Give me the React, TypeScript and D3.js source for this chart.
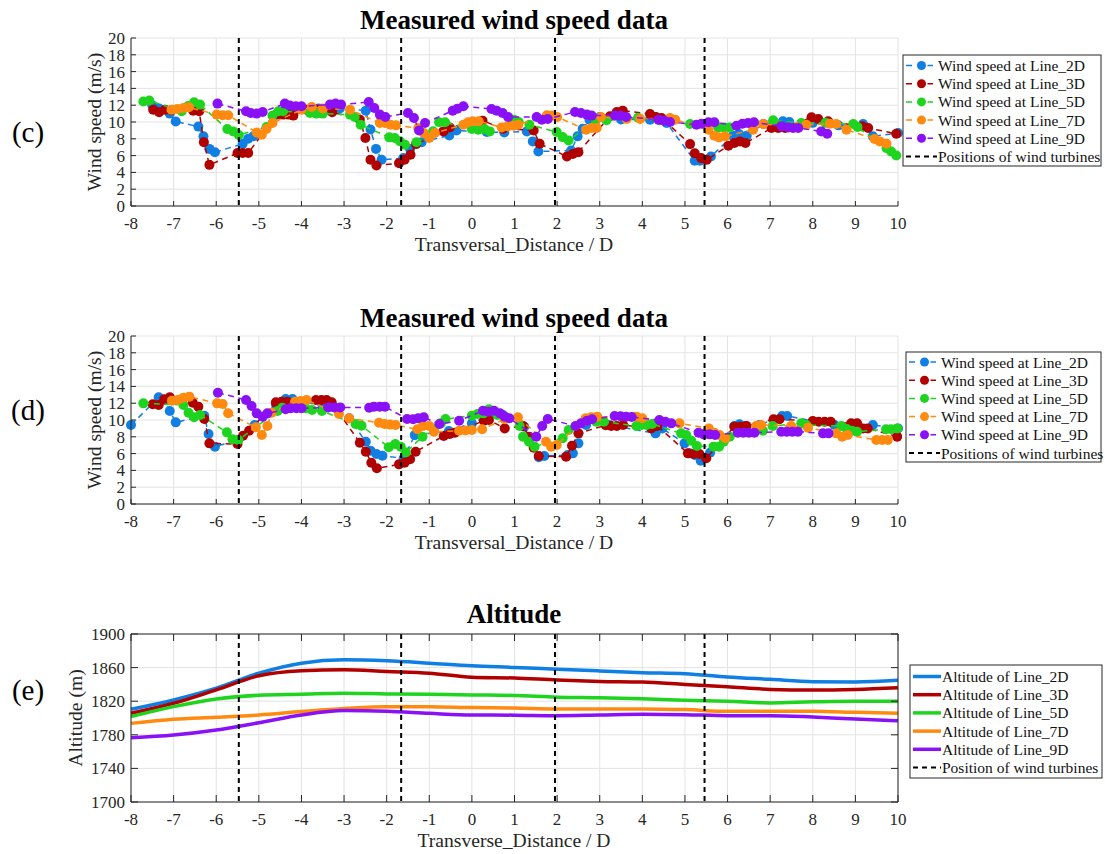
import React from "react";
import * as d3 from "d3";

type Pt = [number, number];

// Transversal positions (in rotor diameters) of the wind turbines
const turbinePositions = [-5.47, -1.66, 1.95, 5.46];

const xTicks = d3.range(-8, 11, 1);
const speedTicks = d3.range(0, 21, 2);
const altitudeTicks = d3.range(1700, 1901, 40);

const lineNames = ["Line_2D", "Line_3D", "Line_5D", "Line_7D", "Line_9D"];
const lineColors = ["#0f7fe3", "#b00000", "#1fd41f", "#ff8a10", "#8a10f5"];

// ---- measured wind speed, campaign (c) ----
const c2D: Pt[] = [[-7.5,12.0],[-7.34,11.6],[-7.09,11.0],[-6.95,10.05],[-6.42,9.45],[-6.3,8.3],[-6.16,6.8],[-6.03,6.4],[-5.38,7.4],[-5.25,8.0],[-5.13,8.3],[-4.6,10.9],[-4.35,11.5],[-4.2,11.5],[-3.6,11.6],[-3.3,11.7],[-3.1,11.6],[-2.49,11.35],[-2.38,9.1],[-2.25,6.8],[-2.12,5.5],[-1.61,5.7],[-1.45,6.8],[-1.18,7.6],[-0.53,8.4],[-0.36,9.0],[0.35,8.8],[0.76,8.76],[1.29,8.88],[1.43,7.69],[1.56,6.49],[2.33,6.61],[2.48,8.29],[2.6,9.2],[2.76,10.28],[3.0,10.6],[3.5,10.3],[4.18,10.28],[4.57,9.88],[5.23,5.38],[5.35,5.38],[5.61,5.9],[6.13,8.37],[6.27,8.57],[6.45,8.37],[6.84,9.76],[7.3,10.08],[7.45,10.0],[8.0,9.9],[8.6,9.6],[9.18,9.76],[9.41,8.29],[10.0,8.69]];
const c3D: Pt[] = [[-7.48,11.47],[-7.34,11.16],[-7.2,11.47],[-7.05,11.4],[-6.54,11.35],[-6.4,11.27],[-6.29,7.6],[-6.16,4.9],[-5.5,6.3],[-5.38,6.3],[-5.25,6.3],[-4.58,10.88],[-4.43,10.88],[-4.31,10.88],[-4.19,10.76],[-3.88,11.47],[-3.65,11.5],[-3.41,11.47],[-3.28,11.16],[-2.63,10.28],[-2.5,8.09],[-2.38,5.5],[-2.24,4.82],[-1.71,5.1],[-1.58,5.5],[-1.44,6.1],[-1.31,7.37],[-0.67,8.88],[-0.52,9.36],[0.25,10.16],[0.73,9.2],[1.45,9.0],[1.59,7.41],[2.23,5.9],[2.37,6.18],[2.5,6.41],[3.24,10.68],[3.4,11.2],[3.54,11.35],[4.18,10.96],[4.32,10.6],[4.45,10.48],[5.12,7.37],[5.23,6.29],[5.38,5.7],[5.51,5.5],[6.02,7.17],[6.16,7.49],[6.29,7.69],[6.42,7.49],[7.03,9.28],[7.19,9.28],[7.35,9.28],[7.97,10.56],[8.13,10.36],[8.36,10.08],[9.16,9.48],[9.3,9.28],[9.96,8.6]];
const c5D: Pt[] = [[-7.71,12.43],[-7.57,12.55],[-6.81,11.27],[-6.66,11.9],[-6.52,12.35],[-6.38,12.07],[-5.74,9.16],[-5.6,8.88],[-5.47,8.45],[-4.82,9.4],[-4.68,10.76],[-4.54,11.27],[-4.43,11.27],[-3.8,11.07],[-3.65,11.0],[-3.5,11.0],[-2.86,10.88],[-2.75,10.6],[-2.61,9.68],[-1.94,8.17],[-1.81,8.09],[-1.69,7.7],[-1.57,7.3],[-1.3,7.6],[-0.91,8.9],[-0.77,9.96],[-0.63,9.96],[0.0,9.16],[0.15,9.08],[0.3,9.16],[0.42,8.88],[0.98,10.28],[1.1,10.0],[1.35,9.68],[1.99,8.8],[2.13,8.2],[2.27,7.8],[2.91,10.2],[3.16,10.2],[3.9,10.5],[4.4,10.2],[5.12,9.76],[5.78,9.36],[5.91,9.36],[6.05,9.36],[7.07,10.2],[7.73,9.88],[8.3,9.9],[8.95,9.76],[9.05,9.4],[9.73,6.89],[9.84,6.49],[9.96,6.02]];
const c7D: Pt[] = [[-7.05,11.47],[-6.91,11.55],[-6.77,11.67],[-6.64,11.75],[-5.99,10.88],[-5.85,10.8],[-5.72,10.8],[-5.05,8.76],[-4.93,8.49],[-4.82,9.16],[-4.68,9.88],[-4.0,11.47],[-3.76,11.79],[-3.5,11.6],[-2.86,11.47],[-2.16,9.88],[-2.04,9.88],[-1.91,9.68],[-1.78,9.6],[-1.26,9.28],[-1.13,8.69],[-1.0,8.09],[-0.87,8.69],[-0.2,9.68],[-0.09,9.96],[0.02,10.08],[0.16,10.08],[0.7,9.36],[0.84,9.48],[0.98,9.56],[1.09,9.68],[1.76,10.8],[1.88,10.76],[2.0,10.6],[2.68,9.08],[2.81,9.28],[2.93,9.28],[3.03,10.6],[3.63,10.36],[3.95,10.36],[4.65,10.48],[4.77,10.28],[5.55,9.08],[5.69,8.37],[5.8,8.17],[5.94,8.29],[6.6,9.08],[6.84,9.76],[7.62,9.4],[7.85,9.68],[8.4,9.8],[8.55,9.76],[8.79,9.08],[9.45,7.97],[9.57,7.69],[9.73,7.41]];
const c9D: Pt[] = [[-5.97,12.19],[-5.3,11.27],[-5.19,11.08],[-5.05,11.0],[-4.91,11.2],[-4.39,12.19],[-4.27,11.95],[-4.13,11.87],[-4.0,11.87],[-3.33,12.07],[-3.2,12.19],[-3.07,12.07],[-2.42,12.39],[-2.29,11.67],[-2.16,10.88],[-2.03,10.6],[-1.5,11.08],[-1.36,10.48],[-1.24,9.0],[-1.1,9.88],[-0.45,11.35],[-0.34,11.59],[-0.2,11.87],[0.46,11.55],[0.58,11.35],[0.72,11.08],[0.85,10.6],[1.52,10.6],[1.64,10.28],[1.78,10.36],[2.42,11.2],[2.56,11.08],[2.7,10.88],[2.81,10.76],[3.36,10.76],[3.48,10.76],[3.62,10.6],[4.38,10.28],[4.51,10.16],[4.65,10.0],[5.27,9.68],[5.39,9.8],[5.55,9.96],[5.69,9.96],[6.21,9.56],[6.35,9.8],[6.48,9.88],[6.62,9.96],[7.27,9.48],[7.43,9.36],[7.54,9.28],[7.66,9.28],[8.2,8.88],[8.34,8.6]];

// ---- measured wind speed, campaign (d) ----
const d2D: Pt[] = [[-8.0,9.4],[-7.35,12.7],[-7.22,12.38],[-7.09,11.07],[-6.95,9.72],[-6.28,10.5],[-6.18,8.33],[-6.03,6.83],[-5.5,7.6],[-5.1,9.4],[-4.6,11.9],[-4.37,12.5],[-4.21,12.5],[-3.5,11.67],[-2.88,10.2],[-2.49,7.42],[-2.38,6.35],[-2.24,5.95],[-2.1,5.75],[-1.6,5.44],[-1.34,8.2],[-0.54,8.7],[0.0,9.6],[0.5,10.8],[0.73,10.6],[1.23,9.2],[1.57,5.56],[1.7,5.71],[2.25,5.83],[2.37,6.03],[2.5,7.22],[2.68,9.4],[3.23,9.4],[4.31,8.41],[4.47,9.0],[4.99,7.22],[5.11,6.03],[5.23,5.83],[5.37,5.16],[5.59,6.11],[6.16,9.29],[6.28,9.48],[6.42,9.29],[6.75,9.4],[7.28,10.48],[7.4,10.48],[8.51,9.4],[9.41,9.4],[10.0,9.0]];
const d3D: Pt[] = [[-7.49,11.87],[-7.35,11.79],[-7.22,12.46],[-7.09,12.7],[-6.55,12.06],[-6.42,11.59],[-6.28,10.12],[-6.16,7.22],[-5.5,7.14],[-5.37,8.13],[-5.23,8.73],[-4.6,12.1],[-4.47,12.18],[-4.33,12.18],[-3.66,12.38],[-3.53,12.38],[-3.41,12.38],[-3.29,12.1],[-2.63,7.3],[-2.49,6.23],[-2.36,4.92],[-2.23,4.25],[-1.71,4.72],[-1.58,4.92],[-1.45,5.32],[-1.32,6.23],[-0.66,8.1],[-0.52,8.33],[-0.4,8.49],[0.28,9.92],[0.4,10.0],[0.77,9.0],[1.2,9.29],[1.34,8.02],[1.45,6.71],[1.57,5.71],[2.21,5.63],[2.35,6.94],[2.5,8.41],[3.14,9.37],[3.27,9.29],[3.4,9.29],[3.55,9.4],[4.21,9.0],[4.35,9.3],[5.07,6.03],[5.21,5.95],[5.34,5.95],[5.5,5.44],[6.16,9.21],[6.3,9.21],[6.44,9.3],[7.08,10.08],[7.22,10.08],[8.0,9.88],[8.14,9.8],[8.28,9.8],[8.42,9.8],[8.9,9.6],[9.04,9.6],[9.18,9.0],[9.29,9.0],[9.98,8.02]];
const d5D: Pt[] = [[-7.71,11.98],[-6.77,11.79],[-6.65,10.87],[-6.52,10.32],[-6.38,10.6],[-5.75,8.53],[-5.62,7.7],[-5.48,7.62],[-4.56,11.07],[-4.45,11.47],[-3.9,11.39],[-3.75,11.2],[-3.52,11.07],[-2.73,9.52],[-2.59,9.33],[-1.95,6.75],[-1.8,7.14],[-1.67,6.83],[-1.55,6.15],[-1.16,8.02],[-0.89,9.0],[-0.73,9.6],[-0.62,10.12],[0.0,10.52],[0.13,10.71],[0.27,10.79],[0.4,11.27],[0.6,10.6],[1.12,9.29],[1.2,8.02],[1.34,7.42],[1.47,6.83],[2.13,7.82],[2.27,8.81],[2.92,9.8],[3.1,9.8],[3.86,9.29],[3.98,9.4],[4.1,9.4],[4.23,9.52],[4.91,8.41],[5.03,8.21],[5.15,7.54],[5.28,6.9],[5.67,6.83],[5.8,6.83],[5.91,7.42],[6.05,8.02],[6.83,8.73],[7.06,9.29],[7.73,9.6],[7.85,9.4],[8.67,9.29],[8.8,8.93],[8.92,8.73],[9.04,8.61],[9.72,8.89],[9.84,8.89],[9.98,9.0]];
const d7D: Pt[] = [[-7.04,12.3],[-6.9,12.38],[-6.77,12.66],[-6.63,12.78],[-5.98,11.98],[-5.85,11.9],[-5.72,10.8],[-5.07,9.13],[-4.93,8.21],[-4.8,9.29],[-4.7,10.87],[-4.15,12.18],[-4.02,12.26],[-3.88,12.38],[-3.12,10.71],[-2.88,10.2],[-2.18,9.68],[-2.05,9.52],[-1.92,9.45],[-1.79,9.4],[-1.28,8.89],[-1.15,9.29],[-1.0,9.29],[-0.89,8.6],[-0.3,8.73],[-0.15,8.75],[0.0,8.8],[0.24,8.89],[0.77,10.08],[1.08,10.32],[1.74,7.42],[1.86,6.83],[1.99,7.02],[2.67,10.2],[2.8,10.32],[2.94,10.4],[3.86,10.4],[4.0,10.2],[4.87,9.6],[5.56,9.0],[5.69,8.49],[5.81,8.21],[5.95,7.82],[6.67,9.29],[6.79,9.4],[7.49,9.29],[7.89,9.09],[8.55,8.41],[8.69,8.02],[8.82,8.21],[9.49,7.62],[9.63,7.62],[9.76,7.62]];
const d9D: Pt[] = [[-5.96,13.25],[-5.3,12.38],[-5.17,11.67],[-5.05,10.79],[-4.91,10.4],[-4.8,10.79],[-4.37,11.27],[-4.25,11.39],[-4.12,11.39],[-4.0,11.39],[-3.37,11.5],[-3.23,11.5],[-3.09,11.5],[-2.41,11.47],[-2.3,11.59],[-2.16,11.59],[-2.04,11.59],[-1.52,10.12],[-1.38,10.08],[-1.26,10.2],[-1.13,10.32],[-0.76,9.52],[-0.3,9.92],[0.26,11.1],[0.38,10.99],[0.52,11.1],[0.66,10.79],[0.77,10.4],[0.88,10.2],[1.51,8.02],[1.65,9.29],[1.78,10.12],[2.43,9.29],[2.56,9.6],[2.7,9.92],[2.82,10.08],[3.35,10.48],[3.49,10.45],[3.62,10.4],[3.75,10.35],[4.4,10.0],[4.54,9.8],[4.68,9.6],[5.32,8.49],[5.44,8.29],[5.58,8.29],[5.71,8.21],[6.24,8.49],[6.37,8.49],[6.5,8.49],[6.63,8.49],[7.26,8.61],[7.39,8.61],[7.52,8.61],[7.65,8.61],[8.24,8.41],[8.37,8.41]];

// ---- terrain altitude along each measurement line ----
const altX = [-8, -7, -6, -5, -4, -3, -2, -1, 0, 1, 2, 3, 4, 5, 6, 7, 8, 9, 10];
const alt2D = [1810.4, 1821.5, 1835.5, 1853.4, 1865.3, 1869.3, 1868.1, 1865.3, 1862.2, 1860.2, 1858, 1856, 1854, 1852.8, 1848.8, 1846, 1843.2, 1842.8, 1844.8];
const alt3D = [1805.6, 1817.5, 1833.5, 1850.2, 1856.2, 1857.4, 1855.4, 1853.4, 1848.6, 1847.6, 1845.2, 1843.6, 1842.8, 1840, 1837.2, 1834, 1833.2, 1834, 1836];
const alt5D = [1801.6, 1813.5, 1822.7, 1827.1, 1828.3, 1829.5, 1828.7, 1828.3, 1827.5, 1826.8, 1824.8, 1824, 1822.8, 1821.2, 1820, 1818, 1819.2, 1820, 1820];
const alt7D = [1793.6, 1798.4, 1800.8, 1803.6, 1807.6, 1811.2, 1813.5, 1813.5, 1812.4, 1811.8, 1810.8, 1810.8, 1810.8, 1810, 1808, 1808, 1808, 1806.8, 1805.6];
const alt9D = [1776.5, 1779.7, 1785.7, 1794.4, 1803.6, 1808.8, 1808, 1805.6, 1803.6, 1803.4, 1802.8, 1803.6, 1804.4, 1804, 1802.8, 1802.8, 1801.2, 1798.8, 1796.8];

const FONT = "'Liberation Serif', 'Times New Roman', serif";
const AXIS = "#262626";
const GRID = "#e3e3e3";

const PLOT_LEFT = 131;
const PLOT_RIGHT = 898;
const PLOT_H = 168;
const TITLE_SIZE = 27;
const LABEL_SIZE = 19.6;
const TICK_SIZE = 17;

const x = d3.scaleLinear().domain([-8, 10]).range([PLOT_LEFT, PLOT_RIGHT]);

type Frame = {
  top: number;
  y: d3.ScaleLinear<number, number>;
  yTicks: number[];
  fullBox: boolean;
  tickLen: number;
};

function Grid({ top, y, yTicks }: Frame) {
  const bottom = top + PLOT_H;
  return (
    <g>
      {xTicks.map((t) => (
        <line key={"gx" + t} x1={x(t)} x2={x(t)} y1={top} y2={bottom} stroke={GRID} strokeWidth={1} />
      ))}
      {yTicks.map((t) => (
        <line key={"gy" + t} x1={PLOT_LEFT} x2={PLOT_RIGHT} y1={y(t)} y2={y(t)} stroke={GRID} strokeWidth={1} />
      ))}
    </g>
  );
}

function AxisFrame({ top, y, yTicks, fullBox, tickLen }: Frame) {
  const bottom = top + PLOT_H;
  return (
    <g>
      <line x1={PLOT_LEFT} x2={PLOT_RIGHT} y1={bottom} y2={bottom} stroke={AXIS} strokeWidth={1} />
      <line x1={PLOT_LEFT} x2={PLOT_LEFT} y1={top} y2={bottom} stroke={AXIS} strokeWidth={1} />
      {fullBox && (
        <>
          <line x1={PLOT_LEFT} x2={PLOT_RIGHT} y1={top} y2={top} stroke={AXIS} strokeWidth={1} />
          <line x1={PLOT_RIGHT} x2={PLOT_RIGHT} y1={top} y2={bottom} stroke={AXIS} strokeWidth={1} />
        </>
      )}
      {xTicks.map((t) => (
        <g key={"tx" + t}>
          <line x1={x(t)} x2={x(t)} y1={bottom} y2={bottom - tickLen} stroke={AXIS} />
          {fullBox && <line x1={x(t)} x2={x(t)} y1={top} y2={top + tickLen} stroke={AXIS} />}
          <text x={x(t)} y={bottom + 23} textAnchor="middle" fontSize={TICK_SIZE} fill={AXIS} fontFamily={FONT}>
            {t}
          </text>
        </g>
      ))}
      {yTicks.map((t) => (
        <g key={"ty" + t}>
          <line x1={PLOT_LEFT} x2={PLOT_LEFT + tickLen} y1={y(t)} y2={y(t)} stroke={AXIS} />
          {fullBox && <line x1={PLOT_RIGHT} x2={PLOT_RIGHT - tickLen} y1={y(t)} y2={y(t)} stroke={AXIS} />}
          <text x={PLOT_LEFT - 6} y={y(t) + 6} textAnchor="end" fontSize={TICK_SIZE} fill={AXIS} fontFamily={FONT}>
            {t}
          </text>
        </g>
      ))}
    </g>
  );
}

function Turbines({ top }: { top: number }) {
  return (
    <g>
      {turbinePositions.map((p) => (
        <line key={p} x1={x(p)} x2={x(p)} y1={top} y2={top + PLOT_H} stroke="#000" strokeWidth={2} strokeDasharray="5,4" />
      ))}
    </g>
  );
}

type LegendRow = { label: string; color: string; kind: "marker" | "solid" | "turbine" };

function Legend({ left, top, width, height, firstRow, step, rows, sampleW }: {
  left: number; top: number; width: number; height: number; firstRow: number; step: number; rows: LegendRow[]; sampleW: number;
}) {
  return (
    <g>
      <rect x={left} y={top} width={width} height={height} fill="#fff" stroke={AXIS} strokeWidth={1} />
      {rows.map((r, i) => {
        const cy = firstRow + i * step;
        const x0 = left + 3;
        const x1 = left + 3 + sampleW;
        return (
          <g key={r.label}>
            {r.kind === "marker" && (
              <>
                <line x1={x0} x2={x1} y1={cy} y2={cy} stroke={r.color} strokeWidth={1.5} strokeDasharray="6,4.5" />
                <rect x={(x0 + x1) / 2 - 6} y={cy - 5} width={12} height={10} fill="#fff" />
                <circle cx={(x0 + x1) / 2} cy={cy} r={4.5} fill={r.color} />
              </>
            )}
            {r.kind === "solid" && <line x1={x0} x2={x1} y1={cy} y2={cy} stroke={r.color} strokeWidth={3.5} />}
            {r.kind === "turbine" && (
              <line x1={x0} x2={x1} y1={cy} y2={cy} stroke="#000" strokeWidth={1.8} strokeDasharray="5,4" />
            )}
            <text x={x1 + 1} y={cy + 5.5} fontSize={15.5} fill="#111" fontFamily={FONT}>
              {r.label}
            </text>
          </g>
        );
      })}
    </g>
  );
}

function SpeedPanel({ top, series, tag, tagY, legendLeft, legendTop, legendFirst, legendH }: {
  top: number; series: Pt[][]; tag: string; tagY: number; legendLeft: number; legendTop: number; legendFirst: number; legendH: number;
}) {
  const y = d3.scaleLinear().domain([0, 20]).range([top + PLOT_H, top]);
  const line = d3.line<Pt>().x((d) => x(d[0])).y((d) => y(d[1]));
  const frame: Frame = { top, y, yTicks: speedTicks, fullBox: false, tickLen: 5 };
  const rows: LegendRow[] = [
    ...lineNames.map((n, i) => ({ label: "Wind speed at " + n, color: lineColors[i], kind: "marker" as const })),
    { label: "Positions of wind turbines", color: "#000", kind: "turbine" as const },
  ];
  return (
    <g>
      <text x={514} y={top - 9} textAnchor="middle" fontSize={TITLE_SIZE} fontWeight="bold" fontFamily={FONT} fill="#000">
        Measured wind speed data
      </text>
      <Grid {...frame} />
      {series.map((s, i) => (
        <g key={i}>
          <path d={line(s) ?? ""} fill="none" stroke={lineColors[i]} strokeWidth={1.5} strokeDasharray="6,4.5" />
          {s.map((p, j) => (
            <circle key={j} cx={x(p[0])} cy={y(p[1])} r={5} fill={lineColors[i]} />
          ))}
        </g>
      ))}
      <Turbines top={top} />
      <AxisFrame {...frame} />
      <text
        transform={`translate(95,${top + PLOT_H / 2}) rotate(-90)`}
        textAnchor="middle"
        dy={6}
        fontSize={LABEL_SIZE}
        fontFamily={FONT}
        fill={AXIS}
      >
        Wind speed (m/s)
      </text>
      <text x={514} y={top + PLOT_H + 45} textAnchor="middle" fontSize={LABEL_SIZE} fontFamily={FONT} fill={AXIS}>
        Transversal_Distance / D
      </text>
      <text x={28} y={tagY} textAnchor="middle" fontSize={29} fontFamily={FONT} fill="#000">
        {tag}
      </text>
      <Legend left={legendLeft} top={legendTop} width={1101 - legendLeft} height={legendH} firstRow={legendFirst} step={18.2} rows={rows} sampleW={31} />
    </g>
  );
}

function AltitudePanel({ top }: { top: number }) {
  const y = d3.scaleLinear().domain([1700, 1900]).range([top + PLOT_H, top]);
  const series = [alt2D, alt3D, alt5D, alt7D, alt9D];
  const line = d3
    .line<number>()
    .x((_, i) => x(altX[i]))
    .y((d) => y(d))
    .curve(d3.curveMonotoneX);
  const frame: Frame = { top, y, yTicks: altitudeTicks, fullBox: true, tickLen: 7 };
  const rows: LegendRow[] = [
    ...lineNames.map((n, i) => ({ label: "Altitude of " + n, color: lineColors[i], kind: "solid" as const })),
    { label: "Position of wind turbines", color: "#000", kind: "turbine" as const },
  ];
  return (
    <g>
      <text x={514} y={top - 11} textAnchor="middle" fontSize={TITLE_SIZE} fontWeight="bold" fontFamily={FONT} fill="#000">
        Altitude
      </text>
      <Grid {...frame} />
      {series.map((s, i) => (
        <path key={i} d={line(s) ?? ""} fill="none" stroke={lineColors[i]} strokeWidth={3.5} />
      ))}
      <Turbines top={top} />
      <AxisFrame {...frame} />
      <text
        transform={`translate(76,${top + PLOT_H / 2}) rotate(-90)`}
        textAnchor="middle"
        dy={6}
        fontSize={LABEL_SIZE}
        fontFamily={FONT}
        fill={AXIS}
      >
        Altitude (m)
      </text>
      <text x={514} y={top + PLOT_H + 45} textAnchor="middle" fontSize={LABEL_SIZE} fontFamily={FONT} fill={AXIS}>
        Transverse_Distance / D
      </text>
      <text x={28} y={top + 66} textAnchor="middle" fontSize={29} fontFamily={FONT} fill="#000">
        (e)
      </text>
      <Legend left={910} top={665} width={192} height={113} firstRow={676.5} step={18.2} rows={rows} sampleW={28} />
    </g>
  );
}

export default function App() {
  return (
    <svg
      width={1105}
      height={854}
      viewBox="0 0 1105 854"
      style={{ position: "absolute", left: 0, top: 0, background: "#fff" }}
    >
      <rect width={1105} height={854} fill="#fff" />
      <SpeedPanel top={38} series={[c2D, c3D, c5D, c7D, c9D]} tag="(c)" tagY={142} legendLeft={903} legendTop={55} legendFirst={65.5} legendH={111} />
      <SpeedPanel top={336} series={[d2D, d3D, d5D, d7D, d9D]} tag="(d)" tagY={420} legendLeft={906} legendTop={352} legendFirst={362} legendH={110} />
      <AltitudePanel top={634} />
    </svg>
  );
}
